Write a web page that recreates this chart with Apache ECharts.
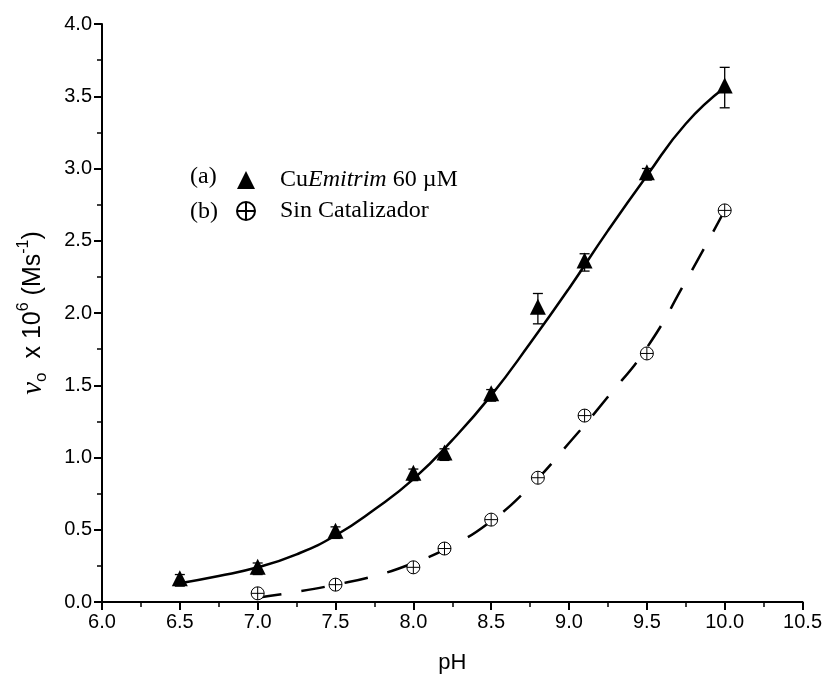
<!DOCTYPE html>
<html>
<head>
<meta charset="utf-8">
<script src="https://cdn.jsdelivr.net/npm/echarts@6/dist/echarts.min.js"></script>
<style>html,body{margin:0;padding:0;background:#fff}#c{width:825px;height:686px}</style>
</head>
<body>
<div id="c"></div>
<script>
// Data
const phA = [6.5, 7.0, 7.5, 8.0, 8.2, 8.5, 8.8, 9.1, 9.5, 10.0];
const vA = [0.15, 0.23, 0.48, 0.88, 1.02, 1.43, 2.03, 2.35, 2.96, 3.56];
const errA = [0.04, 0.04, 0.04, 0.04, 0.04, 0.04, 0.105, 0.06, 0.04, 0.14];

const phB = [7.0, 7.5, 8.0, 8.2, 8.5, 8.8, 9.1, 9.5, 10.0];
const vB = [0.06, 0.12, 0.24, 0.37, 0.57, 0.86, 1.29, 1.72, 2.71];

// fitted curves
const fitAx = [6.5, 6.75, 7.0, 7.25, 7.5, 7.75, 8.0, 8.25, 8.5, 8.75, 9.0, 9.25, 9.5, 9.75, 10.0];
const fitAy = [0.13, 0.18, 0.24, 0.33, 0.46, 0.64, 0.85, 1.12, 1.43, 1.79, 2.17, 2.57, 2.95, 3.31, 3.56];
const fitBx = [7.0, 7.25, 7.5, 7.75, 8.0, 8.25, 8.5, 8.75, 9.0, 9.25, 9.5, 9.75, 10.0];
const fitBy = [0.03, 0.07, 0.12, 0.18, 0.27, 0.39, 0.56, 0.80, 1.10, 1.42, 1.76, 2.22, 2.71];

const xTicks = { min: 6.0, max: 10.5, step: 0.5 };
const yTicks = { min: 0.0, max: 4.0, step: 0.5 };

const nameA = 'CuEmitrim 60 µM';
const nameB = 'Sin Catalizador';
const xTitle = 'pH';

const zip = (xs, ys) => xs.map((x, i) => [x, ys[i]]);
const errData = phA.map((x, i) => [x, vA[i] - errA[i], vA[i] + errA[i]]);

const circlePlus = 'path://M0,-10 A10,10 0 1,1 0,10 A10,10 0 1,1 0,-10 Z M-10,0 L10,0 M0,-10 L0,10';
const sans = "'Liberation Sans',Arial,sans-serif";
const tickFont = "'Liberation Sans Narrow','Arial Narrow','Liberation Sans',Arial,sans-serif";
const serif = "'Liberation Serif','Times New Roman',serif";

const chart = echarts.init(document.getElementById('c'), null, { renderer: 'canvas' });
chart.setOption({
  animation: false,
  backgroundColor: '#fff',
  grid: { left: 102, right: 22, top: 24, bottom: 84, containLabel: false },
  xAxis: {
    type: 'value', min: xTicks.min, max: xTicks.max, interval: xTicks.step,
    name: xTitle, nameLocation: 'middle', nameGap: 50,
    nameTextStyle: { fontFamily: sans, fontSize: 22, color: '#000' },
    axisLine: { show: true, onZero: false, lineStyle: { color: '#000', width: 2 } },
    axisTick: { show: true, inside: false, length: 8, lineStyle: { color: '#000', width: 2 } },
    minorTick: { show: true, splitNumber: 2, length: 5, lineStyle: { color: '#000', width: 1.5 } },
    splitLine: { show: false },
    axisLabel: { color: '#000', fontFamily: tickFont, fontSize: 20, margin: 10, formatter: v => v.toFixed(1) }
  },
  yAxis: {
    type: 'value', min: yTicks.min, max: yTicks.max, interval: yTicks.step,
    name: '{nu|ν}{sub|o}{t|  x 10}{sup|6}{t| (Ms}{sup|-1}{t|)}',
    nameLocation: 'middle', nameGap: 52, nameRotate: 90,
    nameTextStyle: {
      color: '#000',
      rich: {
        nu: { fontFamily: serif, fontStyle: 'italic', fontSize: 29, lineHeight: 34, color: '#000' },
        t: { fontFamily: sans, fontSize: 25, lineHeight: 34, color: '#000' },
        sup: { fontFamily: sans, fontSize: 16, lineHeight: 16, verticalAlign: 'top', color: '#000' },
        sub: { fontFamily: sans, fontSize: 17, lineHeight: 16, verticalAlign: 'bottom', color: '#000' }
      }
    },
    axisLine: { show: true, onZero: false, lineStyle: { color: '#000', width: 2 } },
    axisTick: { show: true, inside: false, length: 8, lineStyle: { color: '#000', width: 2 } },
    minorTick: { show: true, splitNumber: 2, length: 5, lineStyle: { color: '#000', width: 1.5 } },
    splitLine: { show: false },
    axisLabel: { color: '#000', fontFamily: tickFont, fontSize: 20, margin: 10, formatter: v => v.toFixed(1) }
  },
  legend: {
    orient: 'vertical', left: 231, top: 163, itemGap: 7, itemWidth: 18, itemHeight: 18,
    selectedMode: false,
    data: [{ name: nameA, icon: 'triangle' }, { name: nameB, icon: circlePlus }],
    formatter: n => n === nameA ? '{n|Cu}{i|Emitrim}{n| 60 µM}' : '{n|' + n + '}',
    textStyle: {
      padding: [0, 0, 0, 20],
      rich: {
        n: { fontFamily: serif, fontSize: 24, lineHeight: 28, color: '#000' },
        i: { fontFamily: serif, fontSize: 24, lineHeight: 28, fontStyle: 'italic', color: '#000' }
      }
    }
  },
  graphic: [
    { type: 'text', left: 190, top: 163, style: { text: '(a)', font: '24px ' + serif, fill: '#000', lineHeight: 28 } },
    { type: 'text', left: 190, top: 198, style: { text: '(b)', font: '24px ' + serif, fill: '#000', lineHeight: 28 } }
  ],
  series: [
    {
      type: 'line', name: 'fitA', data: zip(fitAx, fitAy), smooth: true, showSymbol: false, symbol: 'none',
      lineStyle: { color: '#000', width: 2.5 }, z: 2, silent: true
    },
    {
      type: 'line', name: 'fitB', data: zip(fitBx, fitBy), smooth: true, showSymbol: false, symbol: 'none',
      lineStyle: { color: '#000', width: 2.5, type: [24, 20] }, z: 2, silent: true
    },
    {
      type: 'custom', name: 'errA', data: errData, z: 3, silent: true,
      renderItem: (params, api) => {
        const x = api.value(0);
        const lo = api.coord([x, api.value(1)]);
        const hi = api.coord([x, api.value(2)]);
        const w = 5;
        const st = { stroke: '#000', lineWidth: 1.3 };
        return {
          type: 'group', children: [
            { type: 'line', shape: { x1: lo[0], y1: lo[1], x2: hi[0], y2: hi[1] }, style: st },
            { type: 'line', shape: { x1: lo[0] - w, y1: lo[1], x2: lo[0] + w, y2: lo[1] }, style: st },
            { type: 'line', shape: { x1: hi[0] - w, y1: hi[1], x2: hi[0] + w, y2: hi[1] }, style: st }
          ]
        };
      }
    },
    {
      type: 'scatter', name: nameA, data: zip(phA, vA), symbol: 'triangle', symbolSize: 16,
      symbolOffset: [0, -2],
      itemStyle: { color: '#000', opacity: 1 }, z: 5
    },
    {
      type: 'scatter', name: nameB, data: zip(phB, vB), symbol: circlePlus, symbolSize: 13,
      itemStyle: { color: '#fff', borderColor: '#000', borderWidth: 1, opacity: 1 }, z: 5
    }
  ]
});
</script>
</body>
</html>
